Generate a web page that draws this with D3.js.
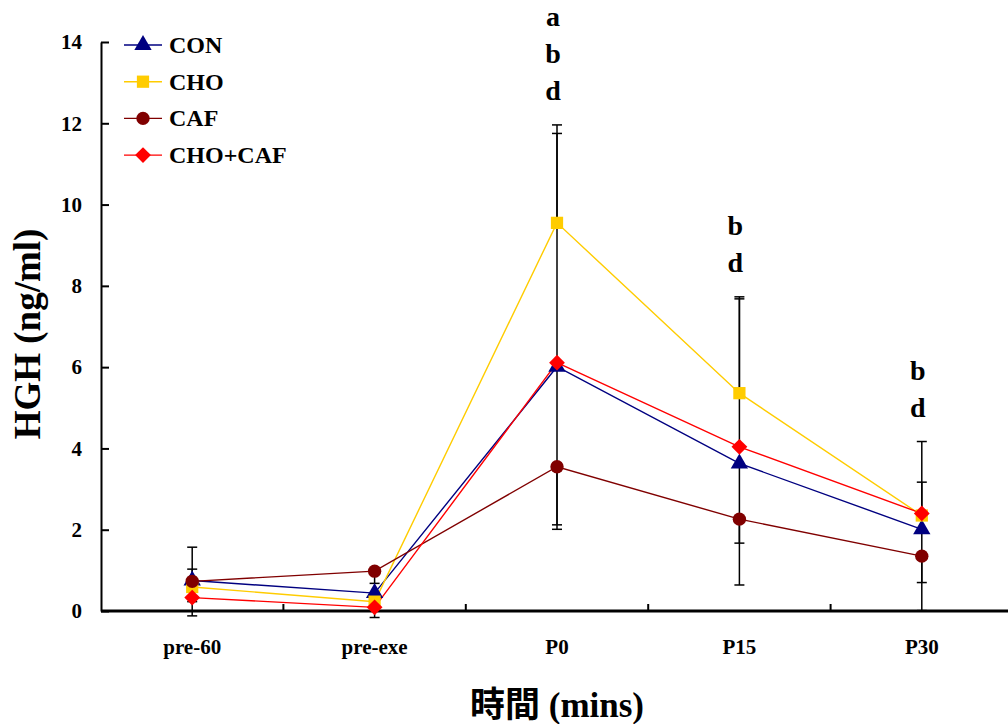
<!DOCTYPE html>
<html>
<head>
<meta charset="utf-8">
<script src="https://cdn.jsdelivr.net/npm/d3@7"></script>
<style>
  body { margin: 0; background: #fff; }
  svg text { font-family: "Liberation Serif", "Times New Roman", serif !important; font-weight: bold; }
  svg text.cjk { font-family: "Liberation Serif", "Noto Sans CJK TC", serif !important; }
</style>
</head>
<body>
<div id="chart"></div>
<script>
// data
const categories = ['pre-60', 'pre-exe', 'P0', 'P15', 'P30'];
const seriesNames = ['CON', 'CHO', 'CAF', 'CHO+CAF'];
const conValues = [0.75, 0.44, 6.01, 3.63, 2.01];
const choValues = [0.59, 0.23, 9.55, 5.36, 2.35];
const cafValues = [0.73, 0.98, 3.55, 2.26, 1.35];
const chocafValues = [0.33, 0.09, 6.11, 4.04, 2.40];
// error bars (one-sided, up or down)
const conErrUp = [0, 0, 0, 0, 0];
const conErrDown = [0.87, 0.6, 4.0, 2.99, 2.0];
const choErrUp = [0.98, 0, 2.41, 2.37, 1.82];
const choErrDown = [0, 0, 0, 0, 0];
const cafErrUp = [0, 0, 0, 0, 0];
const cafErrDown = [0.5, 0.3, 1.43, 0.59, 0.65];
const chocafErrUp = [0.70, 0.1, 5.64, 3.64, 0.77];
const chocafErrDown = [0, 0, 0, 0, 0];
const sigLetters = [[], [], ['a', 'b', 'd'], ['b', 'd'], ['b', 'd']];
const yTicks = [0, 2, 4, 6, 8, 10, 12, 14];

//looks for each series (diamond = square turned 45deg)
const colors = ['#000080', '#FFCC00', '#800000', '#FF0000'];
const shapes = [d3.symbolTriangle, d3.symbolSquare, d3.symbolCircle, d3.symbolSquare];
const shapeSizes = [130, 150, 140, 125];
const shapeTurn = [0, 0, 0, 45];

const series = seriesNames.map((name, i) => ({
  name: name,
  values: [conValues, choValues, cafValues, chocafValues][i],
  up: [conErrUp, choErrUp, cafErrUp, chocafErrUp][i],
  down: [conErrDown, choErrDown, cafErrDown, chocafErrDown][i],
  color: colors[i],
  shape: shapes[i],
  size: shapeSizes[i],
  turn: shapeTurn[i]
}));

let width = 1008;
let height = 724;
let plotLeft = 101, plotTop = 42, plotBottom = 611;
let bandW = 182.4;

let svg = d3.select('#chart').append('svg')
  .attr('width', width)
  .attr('height', height);

let x = d3.scaleBand().domain(categories).range([plotLeft, plotLeft + bandW * categories.length]);
let cx = c => x(c) + x.bandwidth() / 2;
let y = d3.scaleLinear().domain([0, 14]).range([plotBottom, plotTop]);

//Y AXIS
let yAxis = svg.append('g')
  .attr('transform', `translate(${plotLeft},0)`)
  .call(d3.axisLeft(y).tickValues(yTicks).tickSizeInner(-8).tickSizeOuter(0).tickPadding(19));
yAxis.attr('font-family', null);
yAxis.select('.domain').attr('stroke', '#000').attr('stroke-width', 2);
yAxis.selectAll('.tick line').attr('stroke-width', 2);
yAxis.selectAll('.tick text').style('font-size', '21px').attr('fill', '#000');

//X AXIS (labels at centers, ticks between categories)
let xAxis = svg.append('g')
  .attr('transform', `translate(0,${plotBottom})`)
  .call(d3.axisBottom(x).tickSize(0).tickPadding(28));
xAxis.attr('font-family', null);
xAxis.select('.domain').attr('stroke', '#000').attr('stroke-width', 3).attr('d', `M${plotLeft},0H${width + 10}`);
xAxis.selectAll('.tick text').style('font-size', '21px').attr('fill', '#000');
xAxis.selectAll('.between')
  .data(categories.slice(1))
  .enter().append('line')
  .attr('class', 'between')
  .attr('x1', d => x(d)).attr('x2', d => x(d))
  .attr('y1', 0).attr('y2', -7)
  .attr('stroke', '#000').attr('stroke-width', 2);

//lines
let line = d3.line().x((d, i) => cx(categories[i])).y(d => y(d));
series.forEach(s => {
  svg.append('path')
    .datum(s.values)
    .attr('d', line)
    .attr('fill', 'none')
    .attr('stroke', s.color)
    .attr('stroke-width', 1.4);
});

//error bars
series.forEach(s => {
  s.values.forEach((v, i) => {
    let xc = cx(categories[i]);
    [[s.up[i], 1], [s.down[i], -1]].forEach(([e, dir]) => {
      if (!e) return;
      let yEnd = y(v + dir * e);
      let g = svg.append('g').attr('stroke', '#000').attr('stroke-width', 1.5);
      g.append('line').attr('x1', xc).attr('x2', xc).attr('y1', y(v)).attr('y2', yEnd);
      g.append('line').attr('x1', xc - 5).attr('x2', xc + 5).attr('y1', yEnd).attr('y2', yEnd);
    });
  });
});

//markers
series.forEach(s => {
  svg.append('g').selectAll('path')
    .data(s.values)
    .enter().append('path')
    .attr('d', d3.symbol().type(s.shape).size(s.size))
    .attr('transform', (d, i) => `translate(${cx(categories[i])},${y(d)}) rotate(${s.turn})`)
    .attr('fill', s.color);
});

//significance letters above the top error cap
sigLetters.forEach((letters, i) => {
  if (!letters.length) return;
  let topVal = d3.max(series, s => s.values[i] + s.up[i]);
  let base = y(topVal) - 25;
  letters.slice().reverse().forEach((l, k) => {
    svg.append('text')
      .attr('x', cx(categories[i]) - 4)
      .attr('y', base - k * 37)
      .attr('text-anchor', 'middle')
      .style('font-size', '28px')
      .text(l);
  });
});

//legend
let legend = svg.append('g').attr('transform', 'translate(124,45)');
series.forEach((s, i) => {
  let row = legend.append('g').attr('transform', `translate(0,${i * 36.7})`);
  row.append('line').attr('x1', 0).attr('x2', 38).attr('stroke', s.color).attr('stroke-width', 1.4);
  row.append('path').attr('d', d3.symbol().type(s.shape).size(s.size)).attr('transform', `translate(19,0) rotate(${s.turn})`).attr('fill', s.color);
  row.append('text').attr('x', 45).attr('y', 8).style('font-size', '24px').text(s.name);
});

//axis titles
svg.append('text')
  .attr('transform', 'translate(40,334) rotate(-90)')
  .attr('text-anchor', 'middle')
  .style('font-size', '37px')
  .text('HGH (ng/ml)');

svg.append('text')
  .attr('class', 'cjk')
  .attr('x', 557).attr('y', 717)
  .attr('text-anchor', 'middle')
  .style('font-size', '35px')
  .text('時間 (mins)');
</script>
</body>
</html>
